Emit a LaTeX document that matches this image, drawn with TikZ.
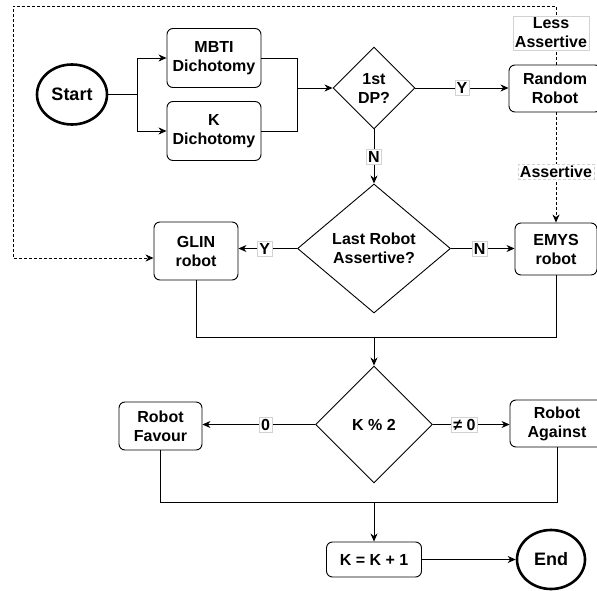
\documentclass[tikz,border=0pt]{standalone}
\usepackage{fontspec}
\setmainfont{Liberation Sans}
\usetikzlibrary{shapes.geometric,arrows.meta,calc}
\begin{document}
\begin{tikzpicture}[x=1pt,y=-1pt,
  every node/.style={font=\fontsize{16}{19}\selectfont\bfseries, align=center},
  box/.style={draw, line width=0.9pt, rounded corners=6pt, inner sep=0pt},
  term/.style={draw, ellipse, line width=2.6pt, inner sep=0pt, font=\fontsize{18}{20}\selectfont\bfseries},
  dia/.style={draw, diamond, line width=0.9pt, inner sep=0pt},
  lab/.style={fill=white, draw=gray!35, line width=0.5pt, inner sep=1.8pt},
  link/.style={line width=0.9pt},
  arr/.style={link, -{Stealth[length=8pt,width=7pt,inset=2.5pt]}},
  dashlink/.style={arr, dash pattern=on 3pt off 2pt}]
\useasboundingbox (0,0) rectangle (597,591);
% nodes
\node[term, minimum width=70pt, minimum height=60pt] (start) at (72,94.5) {Start};
\node[box, minimum width=94pt, minimum height=59pt] (mbti) at (214,58) {MBTI\\Dichotomy};
\node[box, minimum width=94pt, minimum height=59pt] (kdi) at (214,131) {K\\Dichotomy};
\node[dia, minimum width=82pt, minimum height=82pt] (dp1) at (374,88) {};
\node (dp1t) at (374,88) {1st\\DP?};
\node[box, minimum width=92pt, minimum height=47pt] (rr) at (555,88.5) {Random\\Robot};
\node[dia, minimum width=153pt, minimum height=129pt] (d2) at (374,248.5) {};
\node (d2t) at (374,248.5) {Last Robot\\Assertive?};
\node[box, minimum width=84pt, minimum height=58pt] (glin) at (196,251) {GLIN\\robot};
\node[box, minimum width=82pt, minimum height=52pt] (emys) at (556,249) {EMYS\\robot};
\node[dia, minimum width=117pt, minimum height=117pt] (d3) at (374,424.5) {};
\node (d3t) at (374,424.5) {K \% 2};
\node[box, minimum width=83pt, minimum height=48pt] (rf) at (160.5,426) {Robot\\Favour};
\node[box, minimum width=94pt, minimum height=47pt] (ra) at (557,423.5) {Robot\\Against};
\node[box, minimum width=95pt, minimum height=35pt] (kk) at (374,559.5) {K = K + 1};
\node[term, minimum width=68pt, minimum height=59pt] (end) at (551,559.5) {End};
% connectors
\coordinate (s1) at (137,94.5);
\draw[link] (start.east) -- (s1);
\draw[arr] (s1) |- (mbti.west);
\draw[arr] (s1) |- (kdi.west);
\coordinate (j1) at (297,88);
\draw[link] (mbti.east) -| (j1);
\draw[link] (kdi.east) -| (j1);
\draw[arr] (j1) -- (dp1.west);
\draw[arr] (dp1.east) -- node[lab, pos=0.5] (ly1) {Y} (dp1.east -| rr.west);
\draw[arr] (dp1.south) -- node[lab] (ln1) {N} (d2.north);
\draw[arr] (d2.west) -- node[lab, pos=0.55] (ly2) {Y} (d2.west -| glin.east);
\draw[arr] (d2.east) -- node[lab, pos=0.45] (ln2) {N} (d2.east -| emys.west);
% dashed loop
\coordinate (rrtop) at (rr.north -| emys.north);
\coordinate (tr) at (556,6);
\coordinate (tl) at (13,6);
\coordinate (bl) at (13,258);
\draw[dashlink] (rrtop) -- (tr) -- (tl) -- (bl) -- (bl -| glin.west);
\node[lab] (la) at (551,33) {Less\\Assertive};
\draw[dashlink] (rr.south -| emys.north) -- node[lab, pos=0.54] (las) {Assertive} (emys.north);
% merges
\coordinate (m1) at (374,337);
\draw[link] (glin.south) |- (m1);
\draw[link] (emys.south) |- (m1);
\draw[arr] (m1) -- (d3.north);
\draw[arr] (d3.west) -- node[lab, pos=0.44] (l0) {0} (d3.west -| rf.east);
\draw[arr] (d3.east) -- node[lab, pos=0.41] (lne) {≠ 0} (d3.east -| ra.west);
\coordinate (m2) at (374,502);
\draw[link] (rf.south) |- (m2);
\draw[link] (ra.south) |- (m2);
\draw[arr] (m2) -- (kk.north);
\draw[arr] (kk.east) -- (end.west);
\end{tikzpicture}
\end{document}
